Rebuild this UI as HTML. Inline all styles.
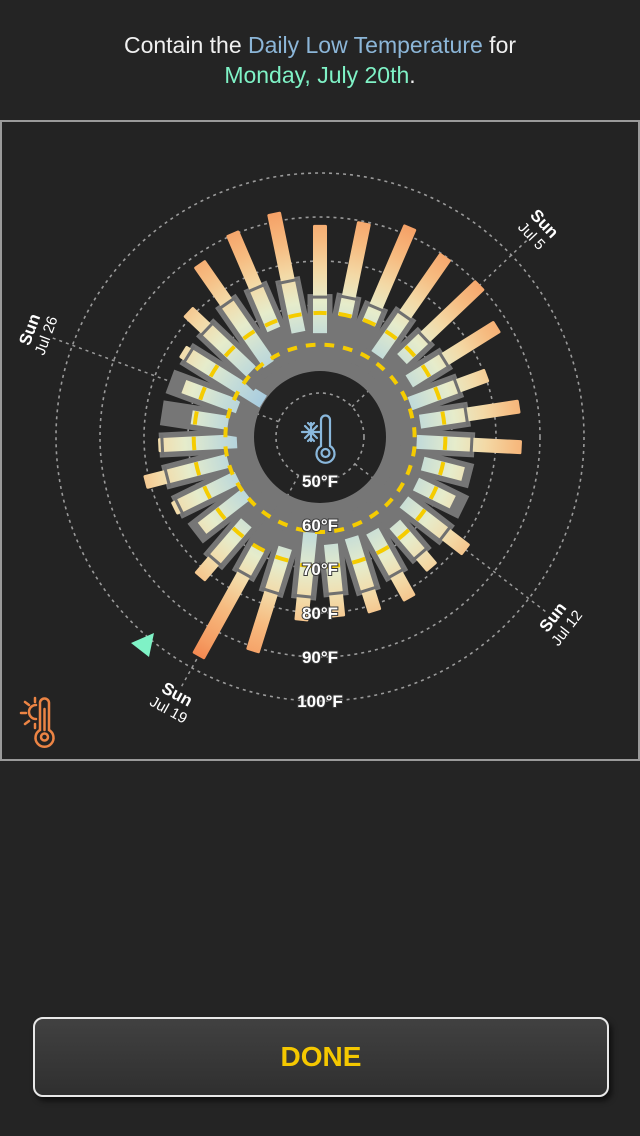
<!DOCTYPE html>
<html><head><meta charset="utf-8">
<style>
html,body{margin:0;padding:0;background:#242424;width:640px;height:1136px;overflow:hidden;font-family:"Liberation Sans",sans-serif;}
#title{position:absolute;left:0;top:30px;width:640px;text-align:center;color:#f0f0f0;font-size:23px;line-height:30px;}
.blue{color:#8cb6d8}.green{color:#7ff2c6}
#frame{position:absolute;left:0;top:120px;width:636px;height:637px;border:2px solid #9a9a9a;background:#232323;}
#done{position:absolute;left:33px;top:1017px;width:572px;height:76px;border:2px solid #e8e8e8;border-radius:10px;background:linear-gradient(#414141,#2f2f2f);box-shadow:3px 4px 6px rgba(0,0,0,.6);color:#f5c800;font-weight:bold;font-size:28px;text-align:center;line-height:76px;}
</style></head><body>
<div id="title">Contain the <span class="blue">Daily Low Temperature</span> for<br><span class="green">Monday, July 20th</span>.</div>
<div id="frame"></div>
<svg id="chart" width="640" height="1136" style="position:absolute;left:0;top:0" xmlns="http://www.w3.org/2000/svg">
<defs>
<linearGradient id="tg" gradientUnits="userSpaceOnUse" x1="0" y1="-45" x2="0" y2="-260">
<stop offset="0" stop-color="#9fc6de"/>
<stop offset="0.1" stop-color="#a8cce0"/>
<stop offset="0.26" stop-color="#c4dcd8"/>
<stop offset="0.42" stop-color="#e6eccb"/>
<stop offset="0.56" stop-color="#f3d9a6"/>
<stop offset="0.7" stop-color="#f6bb80"/>
<stop offset="0.88" stop-color="#f59c62"/>
<stop offset="1" stop-color="#f27e48"/>
</linearGradient>
</defs>
<g id="grid"></g>
<g id="ring"></g>
<g id="bars"></g>
<g id="yellow"></g>
<g id="labels"></g>
<g id="icons">
<g stroke="#8ab8dc" stroke-width="2.2" fill="none" stroke-linecap="round">
<path d="M321,446 V420 a4.5,4.5 0 0 1 9,0 V446 a9,9 0 1 1 -9,0 Z"/>
<circle cx="325.5" cy="453" r="4"/>
<path d="M302,432 h18 M311,423 v18 M305,426 l12,12 M317,426 l-12,12 M308,423 l3,3 l3,-3 M308,441 l3,-3 l3,3"/>
</g>
<g stroke="#ec8444" stroke-width="2.5" fill="none" stroke-linecap="round">
<path d="M40,730 V703 a4.5,4.5 0 0 1 9,0 V730 a9,9 0 1 1 -9,0 Z"/>
<circle cx="44.5" cy="737" r="3.5"/>
<path d="M44.5,709 V730"/>
<path d="M36,705 a7,7 0 0 0 0,14 M21,713 h5 M25,702 l4,3 M25,724 l4,-3 M35,698 v4 M35,724 v4"/>
</g>
<polygon points="131,643 154,633 149,657" fill="#7ff2c6"/>
</g>
</svg>
<div id="done">DONE</div>
<script>
const dayLabels=[1,2,3,4,5,6,7,8,9,10,11,12,13,14,15,16,17,18,19,20,21,22,23,24,25,26,27,28,29,30,31];
const lows=[63.6,68.0,68.0,62.7,65.7,63.9,61.8,63.0,62.0,64.1,64.3,64.1,66.1,64.5,63.9,64.5,61.8,66.4,69.1,65.7,61.1,60.9,61.6,58.9,61.1,59.8,55.2,61.6,60.2,66.6,64.3];
const highs=[88.2,89.8,92.0,90.0,90.2,87.5,80.5,85.9,85.9,73.6,73.6,82.0,79.1,82.0,81.6,81.1,82.0,91.1,97.0,82.0,73.9,77.0,81.1,76.8,69.5,73.0,76.8,81.4,88.0,90.5,92.0];
const normals=[71.8,72.3,72.0,73.6,72.7,73.2,73.2,73.6,74.5,74.8,75.7,75.9,75.0,75.5,76.4,75.7,76.4,76.8,75.5,76.8,75.2,75.7,75.9,75.9,75.7,75.7,75.2,75.5,77.0,76.8,76.1];
const avgHighs=[68.2,68.3,68.4,68.3,68.3,68.4,68.5,68.4,68.5,68.6,68.8,69.0,69.2,69.4,69.5,69.5,69.4,69.0,68.8,68.6,68.5,68.6,68.8,68.7,68.6,68.5,68.4,68.3,68.3,68.2,68.2];
const avgLows=[61.0,61.0,61.1,61.1,61.2,61.3,61.4,61.5,61.6,61.6,61.6,61.6,61.5,61.5,61.6,61.6,61.5,61.4,61.4,61.4,61.5,61.6,61.6,61.5,61.4,61.3,61.2,61.1,61.0,61.0,61.0];
const tickTemps=[50,60,70,80,90,100];
const sundays=[4,11,18,25];
const sundayLabels=["Jul 5","Jul 12","Jul 19","Jul 26"];

const NS="http://www.w3.org/2000/svg";
const CX=320,CY=437;
const N=dayLabels.length, STEP=360/N;
function rad(t){return (t-40)*4.4;}
function ang(i){return i*STEP;}
function mk(tag,attrs,parent){const e=document.createElementNS(NS,tag);for(const k in attrs)e.setAttribute(k,attrs[k]);parent.appendChild(e);return e;}
function pt(a,r){const t=(a-90)*Math.PI/180;return [CX+r*Math.cos(t),CY+r*Math.sin(t)];}

const grid=document.getElementById('grid');
tickTemps.forEach(t=>{
  const c=mk('circle',{cx:CX,cy:CY,r:rad(t),fill:'none',stroke:'#9a9a9a','stroke-width':1.6,'stroke-dasharray':'3 4'},grid);
  
  
});
sundays.forEach((d,k)=>{
  const a=ang(d);const p1=pt(a,rad(50)),p2=pt(a,285);
  const l=mk('line',{x1:p1[0],y1:p1[1],x2:p2[0],y2:p2[1],stroke:'#9a9a9a','stroke-width':1.5,'stroke-dasharray':'3 4'},grid);
  
  
});

const ring=document.getElementById('ring');
const rp=mk('path',{d:`M${CX},${CY-90} a90,90 0 1 1 -0.01,0 Z M${CX},${CY-66} a66,66 0 1 0 0.01,0 Z`,fill:'#767676','fill-rule':'evenodd'},ring);



const bars=document.getElementById('bars');
for(let i=0;i<N;i++){
  const g=mk('g',{transform:`translate(${CX},${CY}) rotate(${ang(i)})`},bars);
  
  
  const rn=rad(normals[i]),rl=rad(lows[i]),rh=rad(highs[i]);
  mk('rect',{x:-12.5,y:-(rn+3),width:25,height:rn+3-80,fill:'#767676'},g);
  if(rh>rn){
    mk('rect',{x:-7,y:-rh,width:14,height:rh-rn,fill:'url(#tg)',rx:1.5},g);
    mk('rect',{x:-7,y:-rn,width:14,height:rn-rl,fill:'url(#tg)'},g);
    mk('rect',{x:-10.5,y:-rn-1.5,width:21,height:3,fill:'#707070'},g);
  }else{
    mk('rect',{x:-7,y:-rh,width:14,height:rh-rl,fill:'url(#tg)'},g);
  }
}

const yl=document.getElementById('yellow');
function arc(i,v){
  const r=rad(v),a=ang(i),h=STEP*0.26;
  const p1=pt(a-h,r),p2=pt(a+h,r);
  return `M${p1[0]},${p1[1]} A${r},${r} 0 0 1 ${p2[0]},${p2[1]}`;
}
for(let i=0;i<N;i++){
  const a1=mk('path',{d:arc(i,avgHighs[i]),stroke:'#f5cc00','stroke-width':4,fill:'none'},yl);
  
  
  const a2=mk('path',{d:arc(i+0.5,avgLows[i]),stroke:'#f5cc00','stroke-width':4,fill:'none'},yl);
  
  
}

const lb=document.getElementById('labels');
tickTemps.forEach(t=>{
  const tx=mk('text',{x:CX,y:CY+rad(t)+6,'text-anchor':'middle','font-size':17,'font-weight':'bold',fill:'#fff',stroke:'#3a3a3a','stroke-width':2,'paint-order':'stroke','font-family':'Liberation Sans, sans-serif'},lb);
  tx.textContent=t+'°F';
  
  
});
sundays.forEach((d,k)=>{
  const a=ang(d);const p=pt(a,302);
  let rot=a; if(a>90&&a<270)rot=a-180; else if(a>=270)rot=a-360;
  const g=mk('g',{transform:`translate(${p[0]},${p[1]}) rotate(${rot})`},lb);
  
  
  const t1=mk('text',{x:0,y:-2,'text-anchor':'middle','font-size':17,'font-weight':'bold',fill:'#fff','font-family':'Liberation Sans, sans-serif'},g);
  t1.textContent='Sun';
  const t2=mk('text',{x:0,y:15,'text-anchor':'middle','font-size':15,fill:'#fff','font-family':'Liberation Sans, sans-serif'},g);
  t2.textContent=sundayLabels[k];
});
</script>
</body></html>
